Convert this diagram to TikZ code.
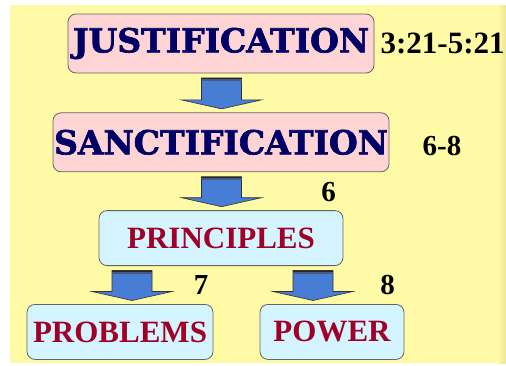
\documentclass[tikz,border=0pt]{standalone}
\usepackage{fontspec}
\setmainfont{Liberation Serif}
\newfontfamily\labelfont{Liberation Serif Bold}
\newfontfamily\heavyfont{DejaVu Serif Bold}[FakeBold=2]
\usetikzlibrary{positioning,calc}
\definecolor{bgyellow}{RGB}{255,250,165}
\definecolor{bgedge}{RGB}{236,230,150}
\definecolor{stagepink}{RGB}{255,212,212}
\definecolor{stagenavy}{RGB}{0,0,102}
\definecolor{partcyan}{RGB}{212,245,255}
\definecolor{partred}{RGB}{160,0,40}
\definecolor{boxgray}{RGB}{100,100,100}
\definecolor{arrblue}{RGB}{72,125,214}
\definecolor{bandgray}{RGB}{70,90,130}
\tikzset{
  box/.style={draw=boxgray, rounded corners=8pt, align=center, inner sep=0pt, line width=0.8pt},
  stage/.style={box, fill=stagepink, text=stagenavy, minimum height=59pt, font=\heavyfont\fontsize{33}{36}\selectfont},
  part/.style={box, fill=partcyan, text=partred, minimum height=55pt, font=\labelfont\fontsize{31}{33}\selectfont},
  ref/.style={inner sep=0pt, font=\labelfont\fontsize{29}{31}\selectfont},
  blockfill/.style={fill=arrblue, draw=black!80, line width=0.6pt}}
% block arrow: from node, to node, x offset from the target's centre
\newcommand{\blockarr}[3]{%
  \path let \p1=($(#1.south)+(0pt,-4.5pt)$), \p2=($(#2.north)+(#3,3.5pt)$) in
    (\x2,\y1) coordinate (bt) (\x2,\y2) coordinate (bp);
  \filldraw[blockfill] ($(bt)+(-20pt,0pt)$) -- ($(bt)+(20pt,0pt)$) -- ($(bp)+(20pt,9pt)$)
    -- ($(bp)+(40pt,9pt)$) -- (bp) -- ($(bp)+(-40pt,9pt)$) -- ($(bp)+(-20pt,9pt)$) -- cycle;
  \fill[black!85] ($(bt)+(-20pt,0pt)$) rectangle ($(bt)+(20pt,-1.5pt)$);
  \fill[bandgray] ($(bt)+(-20pt,-1.5pt)$) rectangle ($(bt)+(20pt,-3pt)$);}

\begin{document}
\begin{tikzpicture}[x=1pt, y=-1pt]
  \useasboundingbox (0,0) rectangle (506,365);
  \fill[bgyellow] (10,5) rectangle (498,363);
  \shade[left color=bgyellow, right color=bgedge] (498,5) rectangle (506,363);

  \node[stage, minimum width=306pt] (just) at (221,43.5) {JUSTIFICATION};
  \node[stage, minimum width=336pt, below=39pt of just] (sanct) {SANCTIFICATION};
  \node[part, minimum width=244pt, below=38pt of sanct] (princ) {PRINCIPLES};
  \node[part, minimum width=186pt, below=38pt of princ, xshift=-101pt] (probl) {PROBLEMS};
  \node[part, minimum width=144pt, below=38pt of princ, xshift=111pt] (power) {POWER};

  \node[ref, font=\labelfont\fontsize{31}{33}\selectfont, right=6pt of just] (jref) {3:21-5:21};
  \node[ref, right=33pt of sanct, yshift=-3.5pt] (sref) {6-8};
  \node[ref] (pref) at (328.5,192.5) {6};
  \node[ref] (lref) at (201,284.5) {7};
  \node[ref] (rref) at (387.5,284.5) {8};

  \blockarr{just}{sanct}{0.5pt}
  \blockarr{sanct}{princ}{0.5pt}
  \blockarr{princ}{probl}{12pt}
  \blockarr{princ}{power}{-19pt}
\end{tikzpicture}
\end{document}
